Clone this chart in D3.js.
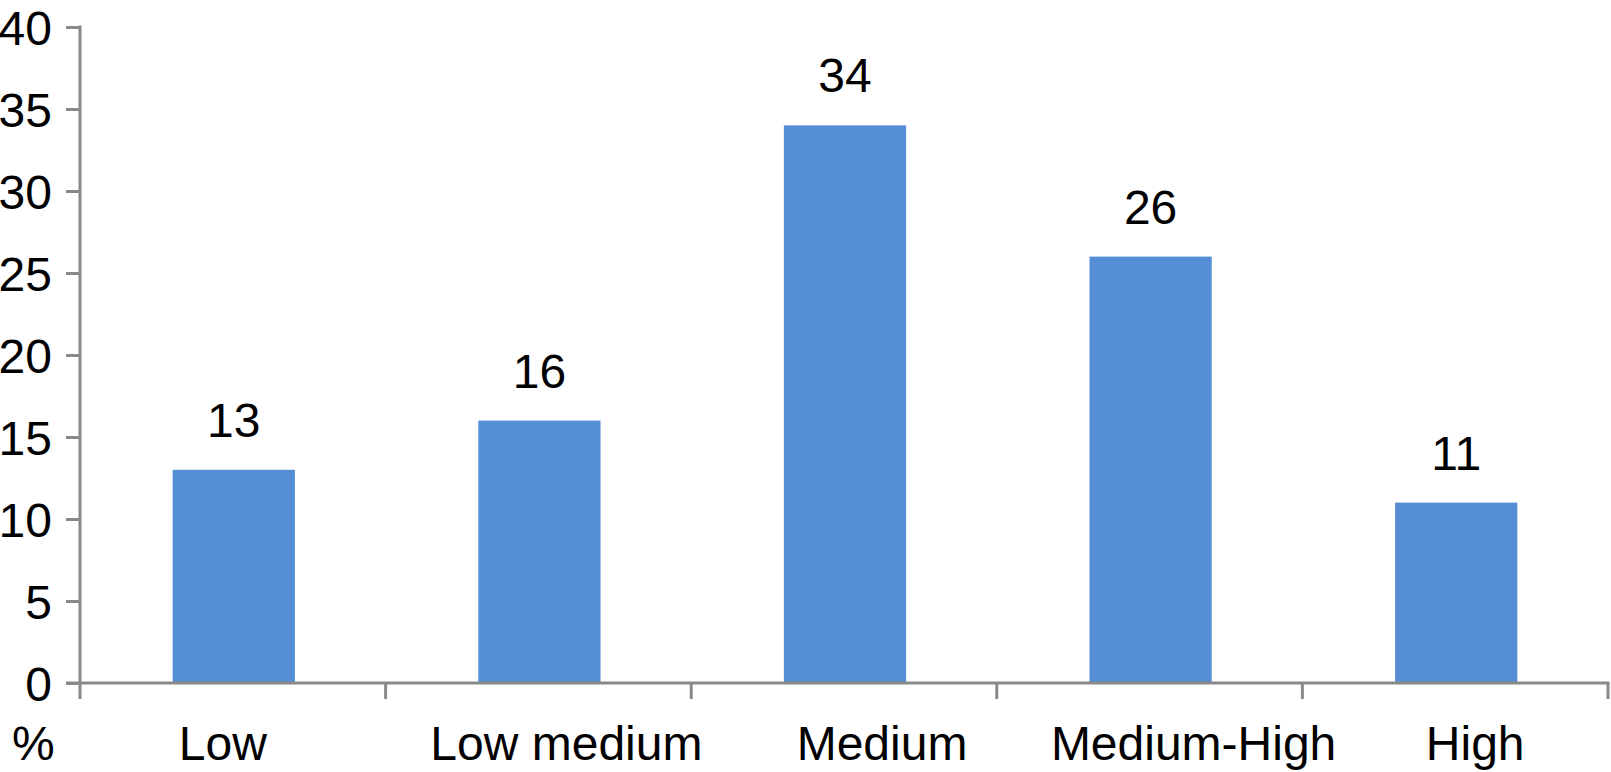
<!DOCTYPE html>
<html lang="en">
<head>
    <meta charset="UTF-8">
    <title>Levels</title>
    <script src="https://d3js.org/d3.v7.min.js"></script>
    <style>
        body {
            margin: 0;
            padding: 0;
            background: #fff;
        }

        text {
            font-family: "Liberation Sans", Arial, Helvetica, sans-serif;
            fill: #000;
        }
    </style>
</head>
<body>
    <div id="main"></div>

    <script>
        var categories = ['Low', 'Low medium', 'Medium', 'Medium-High', 'High'];
        var values = [13, 16, 34, 26, 11];
        var yTicks = [0, 5, 10, 15, 20, 25, 30, 35, 40];

        var width = 1611;
        var height = 772;

        var plotLeft = 80, plotRight = 1608, plotTop = 27, plotBottom = 683;
        var fontSize = '48px';
        // the category labels in the original sit a bit off the band centres
        var catShift = [-10, 28, 38, 44, 20];

        var svg = d3.select('#main')
            .append('svg')
            .attr('width', width)
            .attr('height', height);

        var x = d3.scaleBand()
            .domain(categories)
            .range([plotLeft, plotRight])
            .padding(0);

        var y = d3.scaleLinear()
            .domain([0, 40])
            .range([plotBottom, plotTop]);

        var barW = x.bandwidth() * 0.4;
        var axisColor = '#898989';

        // bars
        svg.selectAll('rect.bar')
            .data(values)
            .enter()
            .append('rect')
            .attr('class', 'bar')
            .attr('x', function(d, i) { return x(categories[i]) + (x.bandwidth() - barW) / 2 + 1; })
            .attr('y', function(d) { return y(d); })
            .attr('width', barW)
            .attr('height', function(d) { return plotBottom - y(d); })
            .attr('fill', '#558ed5');

        // value labels
        svg.selectAll('text.val')
            .data(values)
            .enter()
            .append('text')
            .attr('class', 'val')
            .attr('x', function(d, i) { return x(categories[i]) + x.bandwidth() / 2 + 1; })
            .attr('y', function(d) { return y(d) - 33; })
            .attr('text-anchor', 'middle')
            .style('font-size', fontSize)
            .text(function(d) { return d; });

        // y axis
        var yAxis = d3.axisLeft(y)
            .tickValues(yTicks)
            .tickSize(14)
            .tickPadding(14);

        var gy = svg.append('g')
            .attr('transform', 'translate(' + plotLeft + ',0)')
            .call(yAxis);

        gy.select('.domain').remove();
        gy.selectAll('.tick line').attr('stroke', axisColor).attr('stroke-width', 3);
        gy.selectAll('.tick text')
            .style('font-size', fontSize)
            .style('font-family', '"Liberation Sans", Arial, sans-serif')
            .attr('fill', '#000')
            .attr('dy', '0.36em');

        svg.append('line')
            .attr('x1', plotLeft).attr('x2', plotLeft)
            .attr('y1', plotTop - 1.5).attr('y2', plotBottom + 16)
            .attr('stroke', axisColor).attr('stroke-width', 3);

        // x axis
        svg.append('line')
            .attr('x1', plotLeft - 14).attr('x2', plotRight + 1.5)
            .attr('y1', plotBottom).attr('y2', plotBottom)
            .attr('stroke', axisColor).attr('stroke-width', 3);

        var bounds = categories.map(function(c) { return x(c); }).concat([plotRight]);
        svg.selectAll('line.xtick')
            .data(bounds.slice(1))
            .enter()
            .append('line')
            .attr('class', 'xtick')
            .attr('x1', function(d) { return d; })
            .attr('x2', function(d) { return d; })
            .attr('y1', plotBottom)
            .attr('y2', plotBottom + 16)
            .attr('stroke', axisColor)
            .attr('stroke-width', 3);

        svg.selectAll('text.cat')
            .data(categories)
            .enter()
            .append('text')
            .attr('class', 'cat')
            .attr('x', function(d, i) { return x(d) + x.bandwidth() / 2 + catShift[i]; })
            .attr('y', 760)
            .attr('text-anchor', 'middle')
            .style('font-size', fontSize)
            .text(function(d) { return d; });

        svg.append('text')
            .attr('x', 12)
            .attr('y', 760)
            .style('font-size', fontSize)
            .text('%');
    </script>
</body>
</html>
